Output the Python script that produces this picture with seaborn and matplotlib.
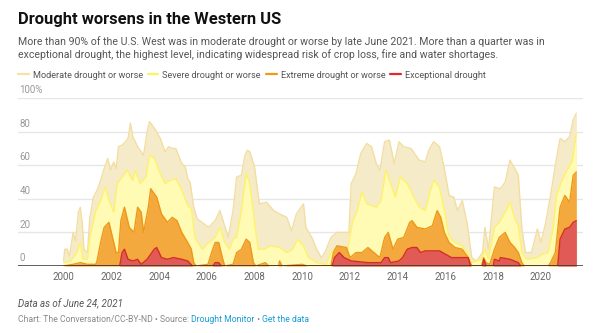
import matplotlib
matplotlib.use("Agg")
import matplotlib.pyplot as plt
import seaborn as sns
from matplotlib.lines import Line2D

# ---------------- data (decimal year, % of the U.S. West) ----------------
moderate_x = [2000.00, 2000.05, 2000.15, 2000.25, 2000.40, 2000.50, 2000.62, 2000.70, 2000.78, 2000.85,
              2001.00, 2001.10, 2001.25, 2001.40, 2001.55, 2001.70, 2001.85, 2001.97, 2002.10, 2002.20,
              2002.30, 2002.45, 2002.60, 2002.70, 2002.80, 2002.90, 2003.10, 2003.35, 2003.50, 2003.60,
              2003.70, 2003.85, 2004.05, 2004.25, 2004.40, 2004.55, 2004.70, 2004.95, 2005.10, 2005.20,
              2005.30, 2005.45, 2005.60, 2005.80, 2006.07, 2006.35, 2006.55, 2006.70, 2006.90, 2007.10,
              2007.25, 2007.45, 2007.60, 2007.70, 2007.80, 2008.00, 2008.20, 2008.50, 2008.80, 2009.05,
              2009.35, 2009.55, 2009.75, 2010.05, 2010.15, 2010.40, 2010.60, 2010.80, 2010.95, 2011.20,
              2011.45, 2011.70, 2011.95, 2012.05, 2012.25, 2012.45, 2012.70, 2012.90, 2013.10, 2013.25,
              2013.45, 2013.65, 2013.85, 2014.05, 2014.25, 2014.55, 2014.90, 2015.15, 2015.30, 2015.50,
              2015.75, 2015.95, 2016.15, 2016.35, 2016.50, 2016.70, 2016.90, 2017.10, 2017.30, 2017.55,
              2017.65, 2017.80, 2018.05, 2018.30, 2018.50, 2018.70, 2018.90, 2019.05, 2019.20, 2019.35,
              2019.60, 2019.85, 2020.00, 2020.20, 2020.40, 2020.60, 2020.80, 2021.00, 2021.20, 2021.35,
              2021.48]
moderate_y = [3, 10, 10, 6, 20, 15, 32, 35, 26, 10,
              8, 29, 41, 45, 51, 58, 64, 57, 62, 58,
              71, 72, 74, 76, 85, 77, 71, 66, 80, 86,
              84, 81, 76, 68, 71, 70, 70, 61, 59, 52,
              50, 35, 28, 26, 23, 27, 33, 26, 17, 33,
              53, 54, 66, 69, 68, 59, 37, 38, 33, 31,
              29, 21, 31, 37, 23, 17, 10, 5, 8, 17,
              20, 20, 20, 49, 55, 67, 73, 71, 61, 57,
              74, 75, 61, 74, 71, 70, 63, 62, 69, 74,
              71, 58, 42, 41, 33, 39, 26, 5, 3, 8,
              23, 10, 47, 46, 50, 63, 58, 54, 22, 8,
              8, 22, 14, 26, 42, 60, 76, 74, 77, 87,
              91]

severe_x = [2000.00, 2000.30, 2000.40, 2000.55, 2000.70, 2000.80, 2001.00, 2001.10, 2001.35, 2001.55,
            2001.75, 2001.90, 2002.10, 2002.25, 2002.45, 2002.65, 2002.90, 2003.00, 2003.20, 2003.45,
            2003.60, 2003.80, 2004.05, 2004.25, 2004.45, 2004.70, 2004.95, 2005.20, 2005.35, 2005.50,
            2005.80, 2006.07, 2006.35, 2006.55, 2006.75, 2006.95, 2007.10, 2007.25, 2007.45, 2007.65,
            2007.80, 2008.00, 2008.15, 2008.40, 2008.65, 2009.05, 2009.35, 2009.60, 2009.80, 2010.05,
            2010.25, 2010.60, 2011.00, 2011.20, 2011.45, 2011.90, 2012.10, 2012.30, 2012.50, 2012.70,
            2012.90, 2013.10, 2013.30, 2013.50, 2013.70, 2013.90, 2014.10, 2014.40, 2014.60, 2014.90,
            2015.15, 2015.35, 2015.50, 2015.75, 2015.95, 2016.15, 2016.40, 2016.70, 2016.90, 2017.10,
            2017.50, 2017.65, 2017.80, 2018.05, 2018.25, 2018.50, 2018.70, 2018.90, 2019.05, 2019.20,
            2019.40, 2019.85, 2020.05, 2020.30, 2020.50, 2020.65, 2020.85, 2021.05, 2021.30, 2021.48]
severe_y = [2, 3, 5, 8, 14, 4, 4, 17, 33, 39,
            47, 39, 32, 49, 53, 57, 51, 57, 49, 53,
            66, 64, 55, 49, 51, 52, 45, 36, 34, 17,
            10, 14, 17, 23, 14, 10, 16, 17, 33, 55,
            49, 26, 10, 10, 12, 11, 8, 10, 16, 12,
            5, 2, 1, 8, 11, 10, 26, 33, 44, 37,
            36, 35, 39, 57, 49, 41, 53, 49, 43, 35,
            33, 44, 51, 47, 33, 17, 14, 12, 8, 2,
            4, 10, 4, 23, 26, 32, 38, 28, 24, 8,
            4, 5, 7, 8, 22, 42, 50, 56, 62, 79]

extreme_x = [2000.00, 2000.40, 2000.70, 2001.00, 2001.35, 2001.40, 2001.55, 2001.70, 2001.90, 2002.05,
             2002.20, 2002.30, 2002.40, 2002.55, 2002.75, 2002.95, 2003.10, 2003.25, 2003.35, 2003.55,
             2003.65, 2003.90, 2004.10, 2004.35, 2004.55, 2004.75, 2004.95, 2005.20, 2005.35, 2005.45,
             2005.55, 2006.05, 2006.20, 2006.35, 2006.50, 2006.65, 2006.75, 2007.10, 2007.25, 2007.45,
             2007.65, 2007.80, 2007.95, 2008.05, 2008.45, 2008.60, 2009.00, 2009.05, 2009.15, 2010.00,
             2010.20, 2011.20, 2011.30, 2011.45, 2011.85, 2012.00, 2012.25, 2012.50, 2012.75, 2013.00,
             2013.25, 2013.45, 2013.60, 2013.80, 2014.00, 2014.25, 2014.50, 2014.60, 2014.80, 2015.15,
             2015.45, 2015.65, 2015.80, 2015.95, 2016.15, 2016.40, 2016.70, 2016.95, 2017.10, 2017.50,
             2017.60, 2017.70, 2017.85, 2018.05, 2018.25, 2018.50, 2018.70, 2018.90, 2019.05, 2019.20,
             2019.30, 2020.30, 2020.40, 2020.60, 2020.80, 2021.00, 2021.20, 2021.35, 2021.48]
extreme_y = [0, 1, 2, 1, 1, 3, 14, 23, 26, 17,
             8, 8, 27, 35, 23, 20, 35, 32, 20, 35,
             46, 41, 31, 26, 29, 27, 20, 14, 10, 2,
             0, 1, 8, 14, 14, 5, 0, 1, 8, 10,
             16, 14, 2, 0, 2, 0, 0, 3, 0, 1,
             0, 0, 8, 12, 11, 5, 8, 8, 11, 8,
             5, 17, 20, 10, 16, 17, 26, 27, 23, 22,
             24, 33, 29, 20, 14, 11, 10, 5, 0, 0,
             5, 2, 1, 10, 17, 20, 14, 11, 8, 2,
             0, 0, 2, 8, 35, 42, 38, 54, 56]

exceptional_x = [2000.00, 2002.35, 2002.45, 2002.55, 2002.70, 2002.90, 2003.10, 2003.25, 2003.50, 2003.80,
                 2003.90, 2004.10, 2004.35, 2004.60, 2004.95, 2005.20, 2005.40, 2006.25, 2006.35, 2006.50,
                 2006.60, 2011.25, 2011.35, 2011.55, 2011.75, 2012.05, 2012.75, 2013.30, 2013.45, 2013.60,
                 2013.70, 2014.05, 2014.20, 2014.40, 2014.60, 2014.80, 2014.95, 2015.15, 2015.75, 2016.00,
                 2016.25, 2016.95, 2017.05, 2017.55, 2017.60, 2017.70, 2018.00, 2018.05, 2018.25, 2018.30,
                 2018.70, 2019.05, 2019.15, 2020.70, 2020.80, 2021.00, 2021.20, 2021.35, 2021.48]
exceptional_y = [0, 0, 8, 10, 4, 3, 4, 1, 4, 10,
                 11, 5, 4, 5, 4, 3, 0, 0, 2, 2,
                 0, 0, 5, 8, 5, 3, 2, 2, 5, 5,
                 2, 3, 5, 10, 11, 11, 8, 9, 9, 7,
                 5, 5, 0, 0, 4, 0, 0, 4, 3, 5,
                 4, 2, 0, 0, 16, 22, 23, 26, 27]

series_names = ["Moderate drought or worse", "Severe drought or worse",
                "Extreme drought or worse", "Exceptional drought"]
fill_colors = ["#f6ebc8", "#fffbb4", "#f3a93d", "#e05b56"]
edge_colors = ["#f3dea2", "#fff26a", "#ef9818", "#d42c2a"]
legend_colors = ["#f8e0a6", "#fff45e", "#f39a14", "#e3272a"]

year_ticks = list(range(2000, 2021, 2))
y_ticks = [0, 20, 40, 60, 80, 100]
y_tick_labels = ["0", "20", "40", "60", "80", "100%"]

# ---------------- figure ----------------
sns.set_theme(style="white")
plt.rcParams["font.family"] = ["Roboto", "DejaVu Sans"]

W, H = 594, 333
fig = plt.figure(figsize=(W / 100, H / 100), dpi=100)
fig.patch.set_facecolor("white")
ax = fig.add_axes([18 / W, 1 - 266 / H, 565 / W, 168 / H])

all_series = [(moderate_x, moderate_y), (severe_x, severe_y),
              (extreme_x, extreme_y), (exceptional_x, exceptional_y)]
for i, (xs, ys) in enumerate(all_series):
    z = 2 + i
    ax.fill_between(xs, 0, ys, color=fill_colors[i], lw=0, zorder=z)
    sns.lineplot(x=xs, y=ys, ax=ax, color=edge_colors[i], lw=1.0,
                 sort=False, estimator=None, legend=False, zorder=z + 0.5)

ax.set_xlim(1998.09, 2021.76)
ax.set_ylim(0, 100)
for s in ax.spines.values():
    s.set_visible(False)

ax.set_yticks(y_ticks)
ax.set_yticklabels([])
ax.yaxis.grid(True, color="#e6e6e6", lw=1)
ax.xaxis.grid(False)
ax.set_axisbelow(True)
ax.tick_params(axis="y", length=0)
ax.set_xticks(year_ticks)
ax.set_xticklabels([str(y) for y in year_ticks])
ax.tick_params(axis="x", length=0, pad=4, labelsize=7, labelcolor="#666666")
ax.set_xlabel("")
ax.set_ylabel("")
ax.axhline(0, color="#333333", lw=1.1, zorder=10)

for v, lab in zip(y_ticks, y_tick_labels):
    ax.annotate(lab, xy=(0, v), xycoords=("axes fraction", "data"),
                xytext=(1, 2), textcoords="offset points",
                ha="left", va="bottom", fontsize=7, color="#999999")

# ---------------- texts ----------------
fig.text(18 / W, 1 - 24 / H, "Drought worsens in the Western US",
         fontsize=11.9, fontweight="bold", color="#111111", ha="left", va="baseline")
fig.text(18 / W, 1 - 45 / H,
         "More than 90% of the U.S. West was in moderate drought or worse by late June 2021. More than a quarter was in",
         fontsize=7.55, color="#555555", ha="left", va="baseline")
fig.text(18 / W, 1 - 58 / H,
         "exceptional drought, the highest level, indicating widespread risk of crop loss, fire and water shortages.",
         fontsize=7.55, color="#555555", ha="left", va="baseline")

handles = [Line2D([0], [0], color=c, lw=1.6) for c in legend_colors]
fig.legend(handles, series_names, loc="center left", bbox_to_anchor=(18 / W, 1 - 75 / H),
           ncol=4, frameon=False, fontsize=6.6, labelcolor="#555555",
           handlelength=1.15, handletextpad=0.45, columnspacing=0.55,
           borderaxespad=0, borderpad=0)

fig.text(18 / W, 1 - 304 / H, "Data as of June 24, 2021", fontsize=7, style="italic",
         color="#555555", ha="left", va="center")
t1 = fig.text(18 / W, 1 - 320 / H, "Chart: The Conversation/CC-BY-ND • Source: ",
              fontsize=6.2, color="#888888", ha="left", va="center")
t2 = fig.text(0, 0, "Drought Monitor", fontsize=6.2, color="#1a9bd7", ha="left", va="center")
t3 = fig.text(0, 0, " • ", fontsize=6.2, color="#888888", ha="left", va="center")
t4 = fig.text(0, 0, "Get the data", fontsize=6.2, color="#1a9bd7", ha="left", va="center")

fig.canvas.draw()
r = fig.canvas.get_renderer()
prev = t1
for t in (t2, t3, t4):
    bb = prev.get_window_extent(r)
    t.set_position((bb.x1 / W, 1 - 320 / H))
    prev = t
    fig.canvas.draw()

fig.savefig("out.png", dpi=100, facecolor="white")
